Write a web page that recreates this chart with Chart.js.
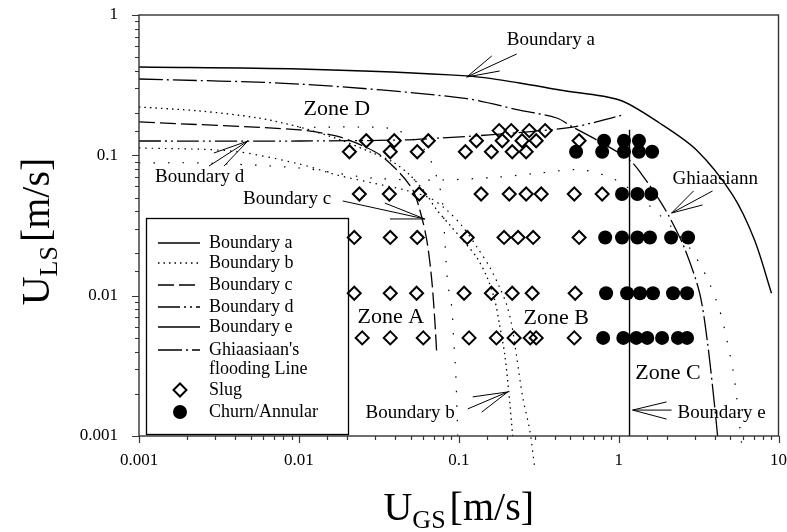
<!DOCTYPE html>
<html>
<head>
<meta charset="utf-8">
<title>Flow pattern map</title>
<script src="https://cdn.jsdelivr.net/npm/chart.js@4.4.1/dist/chart.umd.min.js"></script>
<style>
  html, body { margin: 0; padding: 0; background: #fff; }
  #wrap { width: 787px; height: 532px; }
</style>
</head>
<body>
<div id="wrap"><canvas id="map" width="787" height="532"></canvas></div>
<script>
// ---------- Experimental points (U_GS in m/s), one row per liquid velocity U_LS ----------
const ulsLevels = [0.150, 0.127, 0.106, 0.053, 0.026, 0.0104, 0.005];
const slugUgs = [
  [0.179, 0.213, 0.276, 0.347],
  [0.0264, 0.0395, 0.0645, 0.129, 0.187, 0.249, 0.305, 0.566],
  [0.0207, 0.0373, 0.055, 0.110, 0.160, 0.216, 0.264],
  [0.0239, 0.0368, 0.0566, 0.138, 0.207, 0.264, 0.328, 0.528, 0.789],
  [0.0222, 0.0373, 0.055, 0.113, 0.192, 0.235, 0.292, 0.566],
  [0.0222, 0.0373, 0.0545, 0.108, 0.160, 0.216, 0.288, 0.535],
  [0.0249, 0.0373, 0.060, 0.116, 0.172, 0.222, 0.280, 0.305, 0.528]
];
const churnUgs = [
  [],
  [0.811, 1.08, 1.34],
  [0.542, 0.789, 1.08, 1.34, 1.62],
  [1.05, 1.31, 1.60],
  [0.824, 1.05, 1.31, 1.57, 2.13, 2.72],
  [0.835, 1.13, 1.36, 1.64, 2.19, 2.68],
  [0.800, 1.07, 1.29, 1.51, 1.87, 2.35, 2.68]
];

// ---------- Transition boundaries (U_GS, U_LS pairs) ----------
const boundaryA_ugs = [0.001, 0.0101, 0.112, 0.240, 0.428, 1.01, 1.80, 3.07, 5.16, 7.08, 9.04];
const boundaryA_uls = [0.426, 0.412, 0.368, 0.328, 0.292, 0.248, 0.170, 0.109, 0.0522, 0.0249, 0.0104];

const boundaryB_ugs = [0.001, 0.0024, 0.0055, 0.0101, 0.0181, 0.0278, 0.0387, 0.0494, 0.0613, 0.0729, 0.0879, 0.106, 0.130, 0.150, 0.168, 0.180, 0.194, 0.205, 0.2175];
const boundaryB_uls = [0.221, 0.207, 0.185, 0.159, 0.129, 0.106, 0.0896, 0.0724, 0.0548, 0.0408, 0.0319, 0.0249, 0.0186, 0.0136, 0.0093, 0.0062, 0.0038, 0.00213, 0.001];

const boundaryB2_ugs = [0.001, 0.00387, 0.0101, 0.0173, 0.029, 0.046, 0.0659, 0.0841, 0.106, 0.130, 0.156, 0.180, 0.1995, 0.2145, 0.230, 0.251, 0.278, 0.2985];
const boundaryB2_uls = [0.113, 0.107, 0.0867, 0.0724, 0.0635, 0.0566, 0.0497, 0.0408, 0.0309, 0.0222, 0.0160, 0.0115, 0.0086, 0.0062, 0.0037, 0.0019, 0.0011, 0.0006];

const boundaryB3_ugs = [0.0101, 0.024, 0.041, 0.0613, 0.0739, 0.0794, 0.0818, 0.0853, 0.0904, 0.093, 0.0958, 0.0986];
const boundaryB3_uls = [0.158, 0.159, 0.1515, 0.109, 0.0667, 0.0443, 0.0249, 0.0123, 0.0083, 0.0048, 0.0028, 0.001];

const boundaryB4_ugs = [0.001, 0.0024, 0.0101, 0.029, 0.0761, 0.180, 0.321, 0.596, 1.01, 1.80, 2.78, 3.55, 4.28, 4.80, 5.31, 5.87];
const boundaryB4_uls = [0.0882, 0.0882, 0.0812, 0.0689, 0.0667, 0.0701, 0.0748, 0.0786, 0.0646, 0.0376, 0.0219, 0.0136, 0.0079, 0.0046, 0.0025, 0.00089];

const boundaryC_ugs = [0.001, 0.0101, 0.0173, 0.0230, 0.0321, 0.0428, 0.0516, 0.0571, 0.0631, 0.0678, 0.0708, 0.0729];
const boundaryC_uls = [0.173, 0.152, 0.137, 0.122, 0.101, 0.0748, 0.0566, 0.0408, 0.0249, 0.0129, 0.0067, 0.0038];

const boundaryD_ugs = [0.001, 0.0101, 0.0428, 0.0783, 0.156, 0.516, 1.06];
const boundaryD_uls = [0.1265, 0.1265, 0.1286, 0.133, 0.140, 0.159, 0.194];

const boundaryE_ugs = [1.17, 1.17];
const boundaryE_uls = [0.152, 0.001];

const ghiaasiaan_ugs = [0.001, 0.0101, 0.106, 0.240, 0.410, 0.516, 0.729, 1.17, 1.45, 1.80, 2.08, 2.58, 3.21, 3.60, 3.98, 4.16];
const ghiaasiaan_uls = [0.350, 0.322, 0.256, 0.210, 0.1845, 0.159, 0.1286, 0.0926, 0.0689, 0.048, 0.0363, 0.0219, 0.01045, 0.0046, 0.00166, 0.001];

// ---------- Axis tick labels ----------
const xTickLabels = ['0.001', '0.01', '0.1', '1', '10'];
const yTickLabels = ['0.001', '0.01', '0.1', '1'];

// ---------- Text placed on the map (U_GS, U_LS coordinates) ----------
const zoneNotes = [
  { text: 'Zone D', at: [0.01728, 0.2138] },
  { text: 'Zone A', at: [0.03758, 0.00705] },
  { text: 'Zone B', at: [0.4067, 0.00693] },
  { text: 'Zone C', at: [2.038, 0.00281] }
];
const calloutNotes = [
  { text: 'Boundary a', at: [0.1995, 0.6635], align: 'left', tip: [0.1122, 0.3616], from: [[0.1608, 0.5104], [0.2304, 0.5274], [0.1803, 0.3989]] },
  { text: 'Boundary d', at: [0.00126, 0.0701], align: 'left', tip: [0.0048, 0.1265], from: [[0.00294, 0.1039], [0.00274, 0.0839], [0.0034, 0.0839]] },
  { text: 'Boundary c', at: [0.00447, 0.0489], align: 'left', tip: [0.0613, 0.0352], from: [[0.0188, 0.0473], [0.0345, 0.0457], [0.0371, 0.0352]] },
  { text: 'Ghiaasiann', at: [2.175, 0.0678], align: 'left', tip: [2.144, 0.0388], from: [[2.942, 0.0557], [3.868, 0.0557], [3.35, 0.0443]] },
  { text: 'Boundary b', at: [0.0944, 0.00146], align: 'right', tip: [0.2024, 0.00206], from: [[0.1223, 0.0019], [0.1138, 0.00156], [0.1393, 0.00148]] },
  { text: 'Boundary e', at: [2.337, 0.00146], align: 'left', tip: [1.223, 0.00153], from: [[1.995, 0.00175], [1.995, 0.00132], [2.144, 0.00153]] }
];

const SERIF = "'Liberation Serif', 'Times New Roman', serif";

function pairs(xs, ys) { return xs.map((x, i) => ({ x: x, y: ys[i] })); }
function rowPoints(table) {
  const pts = [];
  table.forEach((row, r) => row.forEach(x => pts.push({ x: x, y: ulsLevels[r] })));
  return pts;
}
function curve(label, xs, ys, dash, width, extra) {
  return Object.assign({
    type: 'line', label: label, data: pairs(xs, ys),
    borderColor: '#000', backgroundColor: '#000', borderWidth: width, borderDash: dash,
    pointRadius: 0, pointHoverRadius: 0, pointStyle: 'line', fill: false, tension: 0.3,
    inLegend: true
  }, extra || {});
}

const datasets = [
  { type: 'scatter', label: 'Slug', data: rowPoints(slugUgs), pointStyle: 'rectRot', pointRadius: 6.5,
    pointHoverRadius: 6.5, borderColor: '#000', backgroundColor: 'rgba(0,0,0,0)', borderWidth: 2, inLegend: true },
  { type: 'scatter', label: 'Churn/Annular', data: rowPoints(churnUgs), pointStyle: 'circle', pointRadius: 7,
    pointHoverRadius: 7, borderColor: '#000', backgroundColor: '#000', borderWidth: 0, inLegend: true },
  curve('Boundary a', boundaryA_ugs, boundaryA_uls, [], 1.4),
  curve('Boundary b', boundaryB_ugs, boundaryB_uls, [1.5, 4], 1.3),
  curve('Boundary b (branch 2)', boundaryB2_ugs, boundaryB2_uls, [1.5, 5], 1.2,
        { inLegend: false, clip: { left: 0, top: 0, right: 0, bottom: 40 } }),
  curve('Boundary b (branch 3)', boundaryB3_ugs, boundaryB3_uls, [1.5, 13], 1.2, { inLegend: false }),
  curve('Boundary b (branch 4)', boundaryB4_ugs, boundaryB4_uls, [1.5, 13], 1.2,
        { inLegend: false, clip: { left: 0, top: 0, right: 0, bottom: 40 } }),
  curve('Boundary c', boundaryC_ugs, boundaryC_uls, [16, 5], 1.3),
  curve('Boundary d', boundaryD_ugs, boundaryD_uls, [22, 4, 2, 4, 2, 4], 1.3),
  curve('Boundary e', boundaryE_ugs, boundaryE_uls, [], 1.4, { tension: 0 }),
  curve(["Ghiaasiaan's", 'flooding Line'], ghiaasiaan_ugs, ghiaasiaan_uls, [24, 4, 2, 4], 1.3)
];

function decadeIndex(v) {
  const e = Math.round(Math.log10(v));
  return Math.abs(v / Math.pow(10, e) - 1) < 1e-6 ? e : null;
}

// Outward tick marks (long at decades, short in between) and the closed frame
const frameTicks = {
  id: 'frameTicks',
  afterDatasetsDraw(chart) {
    const { ctx, chartArea: a, scales } = chart;
    ctx.save();
    ctx.strokeStyle = '#333';
    ctx.lineWidth = 1.4;
    ctx.strokeRect(a.left, a.top, a.right - a.left, a.bottom - a.top);
    ctx.lineWidth = 1.2;
    ctx.beginPath();
    scales.x.ticks.forEach(t => {
      const px = Math.round(scales.x.getPixelForValue(t.value)) + 0.5;
      const len = decadeIndex(t.value) !== null ? 7 : 4;
      ctx.moveTo(px, a.bottom); ctx.lineTo(px, a.bottom + len);
    });
    scales.y.ticks.forEach(t => {
      const py = Math.round(scales.y.getPixelForValue(t.value)) + 0.5;
      const len = decadeIndex(t.value) !== null ? 7 : 4;
      ctx.moveTo(a.left, py); ctx.lineTo(a.left - len, py);
    });
    ctx.stroke();
    ctx.restore();
  }
};

// Zone names and arrowed labels
const mapNotes = {
  id: 'mapNotes',
  afterDatasetsDraw(chart) {
    const { ctx, scales: { x, y } } = chart;
    const P = (p) => [x.getPixelForValue(p[0]), y.getPixelForValue(p[1])];
    ctx.save();
    ctx.fillStyle = '#000';
    ctx.textBaseline = 'middle';
    ctx.font = `22px ${SERIF}`;
    ctx.textAlign = 'center';
    zoneNotes.forEach(n => { const [px, py] = P(n.at); ctx.fillText(n.text, px, py); });
    ctx.font = `19px ${SERIF}`;
    ctx.strokeStyle = '#000';
    ctx.lineWidth = 1;
    calloutNotes.forEach(n => {
      const [px, py] = P(n.at);
      ctx.textAlign = n.align;
      ctx.fillText(n.text, px, py);
      const [tx, ty] = P(n.tip);
      ctx.beginPath();
      n.from.forEach(f => { const [fx, fy] = P(f); ctx.moveTo(fx, fy); ctx.lineTo(tx, ty); });
      ctx.stroke();
    });
    ctx.restore();
  }
};

// Boxed legend inside the lower-left corner of the plot
const boxLegend = {
  id: 'boxLegend',
  afterDatasetsDraw(chart) {
    const { ctx, chartArea: a } = chart;
    const left = a.left + 7, top = a.top + 203, right = a.left + 209, bottom = a.bottom - 2;
    ctx.save();
    ctx.strokeStyle = '#000';
    ctx.lineWidth = 1.3;
    ctx.strokeRect(left + 0.5, top + 0.5, right - left, bottom - top);
    const rows = [
      ['Boundary a', 25], ['Boundary b', 45], ['Boundary c', 67], ['Boundary d', 89],
      ['Boundary e', 109], ["Ghiaasiaan's", 132], ['Slug', 172], ['Churn/Annular', 194]
    ];
    ctx.font = `18px ${SERIF}`;
    ctx.textBaseline = 'middle';
    ctx.textAlign = 'left';
    const textX = left + 63, sx0 = left + 12, sx1 = left + 54, mx = left + 34;
    rows.forEach(([name, dy]) => {
      const ds = chart.data.datasets.find(d => d.inLegend &&
        (Array.isArray(d.label) ? d.label[0] === name : d.label === name));
      const yy = top + dy;
      ctx.fillStyle = '#000';
      const lines = Array.isArray(ds.label) ? ds.label : [ds.label];
      lines.forEach((t, i) => ctx.fillText(t, textX, yy + i * 19));
      ctx.save();
      ctx.strokeStyle = ds.borderColor;
      ctx.lineWidth = ds.borderWidth;
      if (ds.type === 'line') {
        ctx.setLineDash(ds.borderDash || []);
        ctx.beginPath();
        ctx.moveTo(sx0, yy); ctx.lineTo(sx1, yy);
        ctx.stroke();
      } else {
        ctx.fillStyle = ds.backgroundColor;
        Chart.helpers.drawPoint(ctx, {
          pointStyle: ds.pointStyle, radius: ds.pointRadius, borderWidth: ds.borderWidth, rotation: 0
        }, mx, yy);
      }
      ctx.restore();
    });
    ctx.restore();
  }
};

// Axis titles with subscripts
function axisTitle(ctx, cx, cy, rotate, sub) {
  ctx.save();
  ctx.translate(cx, cy);
  if (rotate) ctx.rotate(-Math.PI / 2);
  const big = `40px ${SERIF}`, small = `26px ${SERIF}`;
  ctx.font = big;
  const wU = ctx.measureText('U').width, wUnit = ctx.measureText('[m/s]').width;
  ctx.font = small;
  const wSub = ctx.measureText(sub).width;
  const gap = 4;
  let x0 = -(wU + wSub + gap + wUnit) / 2;
  ctx.fillStyle = '#000';
  ctx.textAlign = 'left';
  ctx.textBaseline = 'alphabetic';
  ctx.font = big; ctx.fillText('U', x0, 0); x0 += wU;
  ctx.font = small; ctx.fillText(sub, x0, 8); x0 += wSub + gap;
  ctx.font = big; ctx.fillText('[m/s]', x0, 0);
  ctx.restore();
}
const axisTitles = {
  id: 'axisTitles',
  afterDraw(chart) {
    const { ctx, chartArea: a } = chart;
    axisTitle(ctx, (a.left + a.right) / 2, 520, false, 'GS');
    axisTitle(ctx, 49, (a.top + a.bottom) / 2 + 6, true, 'LS');
  }
};

const tickFont = { family: SERIF, size: 17 };

new Chart(document.getElementById('map'), {
  type: 'scatter',
  data: { datasets: datasets },
  options: {
    responsive: false,
    devicePixelRatio: 1,
    animation: false,
    events: [],
    layout: { padding: { left: 0, right: 8, top: 15, bottom: 0 } },
    plugins: { legend: { display: false }, tooltip: { enabled: false } },
    scales: {
      x: {
        type: 'logarithmic', position: 'bottom', min: 0.001, max: 10,
        grid: { display: false, drawTicks: false },
        border: { display: false },
        ticks: {
          autoSkip: false, maxRotation: 0, padding: 14, color: '#000', font: tickFont,
          callback: (v) => { const e = decadeIndex(v); return e === null ? '' : (xTickLabels[e + 3] || ''); }
        },
        afterFit(s) { s.height = 96; s.paddingLeft = 0; s.paddingRight = 0; }
      },
      y: {
        type: 'logarithmic', position: 'left', min: 0.001, max: 1,
        grid: { display: false, drawTicks: false },
        border: { display: false },
        ticks: {
          autoSkip: false, padding: 21, color: '#000', font: tickFont,
          callback: (v) => { const e = decadeIndex(v); return e === null ? '' : (yTickLabels[e + 3] || ''); }
        },
        afterFit(s) { s.width = 139; s.paddingTop = 0; s.paddingBottom = 0; }
      }
    }
  },
  plugins: [frameTicks, mapNotes, boxLegend, axisTitles]
});
</script>
</body>
</html>
